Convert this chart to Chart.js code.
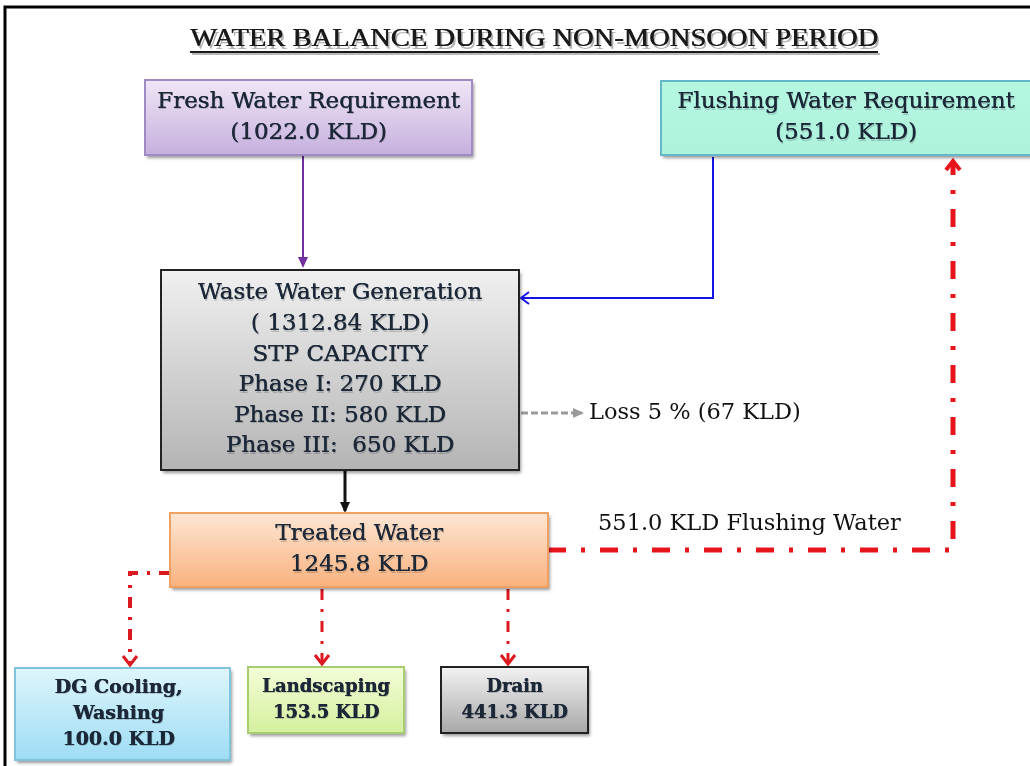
<!DOCTYPE html>
<html>
<head>
<meta charset="utf-8">
<script src="https://cdn.jsdelivr.net/npm/chart.js@4/dist/chart.umd.min.js"></script>
<style>
  html, body { margin: 0; padding: 0; background: #fff; }
  #wrap { width: 1030px; height: 766px; }
</style>
</head>
<body>
<div id="wrap"><canvas id="c" width="1030" height="766"></canvas></div>
<script>
// ─── data ───
const title = 'WATER BALANCE DURING NON-MONSOON PERIOD';
const nodeNames = ['Fresh Water Requirement', 'Flushing Water Requirement', 'Waste Water Generation',
                   'Treated Water', 'DG Cooling,|Washing', 'Landscaping', 'Drain'];
const nodeKLD = [1022.0, 551.0, 1312.84, 1245.8, 100.0, 153.5, 441.3];
const stpPhases = ['Phase I:', 'Phase II:', 'Phase III: '];
const stpKLD = [270, 580, 650];
const lossPct = 5;
const lossKLD = 67;
const flushingReturnKLD = 551.0;

const fmt = v => (Math.round(v * 10) === v * 10 ? v.toFixed(1) : v.toFixed(2)) + ' KLD';

// ─── layout (diagram units = pixels of the reference) ───
const serif = '"DejaVu Serif", "Liberation Serif", serif';
const big = '23px ' + serif;
const boxes = {
  fresh:   { x0: 145, y0: 80,  x1: 472,  y1: 155, top: '#efe6f6', bot: '#c6b0de', edge: '#a08ac4', font: big, lh: 31 },
  flush:   { x0: 661, y0: 81,  x1: 1045, y1: 155, top: '#b6f7e2', bot: '#aef2dc', edge: '#62b8c8', font: big, lh: 31, dx: -7 },
  waste:   { x0: 161, y0: 270, x1: 519,  y1: 470, top: '#f0f0f0', bot: '#b4b4b4', edge: '#222',    font: big, lh: 30.6 },
  treated: { x0: 170, y0: 513, x1: 548,  y1: 587, top: '#fde6d4', bot: '#f9b27e', edge: '#f0a060', font: big, lh: 31 },
  dg:      { x0: 15,  y0: 668, x1: 230,  y1: 760, top: '#def6fd', bot: '#9edcf4', edge: '#80c4dc', font: 'bold 19px ' + serif, lh: 26, dx: -4 },
  land:    { x0: 248, y0: 667, x1: 404,  y1: 733, top: '#f4fdd8', bot: '#d4f09e', edge: '#a8cc70', font: 'bold 18px ' + serif, lh: 26 },
  drain:   { x0: 441, y0: 667, x1: 588,  y1: 733, top: '#f2f2f2', bot: '#a8a8a8', edge: '#222',    font: 'bold 18px ' + serif, lh: 26 }
};
const boxKeys = ['fresh', 'flush', 'waste', 'treated', 'dg', 'land', 'drain'];

function boxLines(i) {
  const name = nodeNames[i].split('|');
  const v = nodeKLD[i];
  if (i === 0 || i === 1) return [name[0], '(' + fmt(v) + ')'];
  if (i === 2) return [name[0], '( ' + fmt(v) + ')', 'STP CAPACITY']
    .concat(stpPhases.map((p, k) => p + ' ' + stpKLD[k] + ' KLD'));
  return name.concat([fmt(v)]);
}

const B = boxes;
const red = '#e8141c';
const dashDot = [18, 15, 4, 15];
const smallDashDot = [11, 9, 3, 9];
const link = (pts, color, width, dash, head) => ({
  data: pts.map(p => ({ x: p[0], y: p[1] })),
  showLine: true, borderColor: color, borderWidth: width, borderDash: dash || [],
  pointRadius: 0, fill: false, tension: 0, head: head
});

const datasets = [
  link([[303, B.fresh.y1], [303, B.waste.y0 - 4]], '#7030a0', 2, null, 'filled'),
  link([[713, B.flush.y1 + 2], [713, 298], [B.waste.x1 + 2, 298]], '#1414e6', 2, null, 'open'),
  link([[B.waste.x1 + 2, 413], [582, 413]], '#9a9a9a', 3, [7, 3], 'filled'),
  link([[345, B.waste.y1], [345, B.treated.y0 - 2]], '#111', 3, null, 'filled'),
  link([[B.treated.x1, 550], [953, 550], [953, B.flush.y1 + 6]], red, 5, dashDot, 'chevron'),
  link([[B.treated.x0, 573], [130, 573], [130, B.dg.y0 - 3]], '#dc1820', 4, smallDashDot, 'chevron'),
  link([[322, B.treated.y1 + 2], [322, B.land.y0 - 3]], '#dc1820', 3, smallDashDot, 'chevron'),
  link([[508, B.treated.y1 + 2], [508, B.drain.y0 - 3]], '#dc1820', 3, smallDashDot, 'chevron')
];

// ─── drawing plugin ───
const diagram = {
  id: 'diagram',
  beforeDatasetsDraw(chart) {
    const { ctx, scales: { x, y } } = chart;
    ctx.save();
    // frame
    ctx.strokeStyle = '#000'; ctx.lineWidth = 3;
    ctx.beginPath();
    ctx.moveTo(x.getPixelForValue(5), y.getPixelForValue(770));
    ctx.lineTo(x.getPixelForValue(5), y.getPixelForValue(7));
    ctx.lineTo(x.getPixelForValue(1035), y.getPixelForValue(7));
    ctx.stroke();

    // title
    const tx = x.getPixelForValue(534), ty = y.getPixelForValue(39);
    ctx.font = '26px "Liberation Serif", serif';
    const w = ctx.measureText(title).width;
    const sx = 688 / w;
    ctx.save();
    ctx.translate(tx, ty); ctx.scale(sx, 1);
    ctx.textAlign = 'center'; ctx.textBaseline = 'middle';
    ctx.fillStyle = 'rgba(0,0,0,0.3)';
    ctx.fillText(title, 2, 3);
    ctx.fillStyle = '#1a1a1a';
    ctx.fillText(title, 0, 0);
    ctx.fillText(title, 0.6, 0);
    ctx.restore();
    ctx.fillStyle = 'rgba(0,0,0,0.28)';
    ctx.fillRect(tx - 344 + 2, y.getPixelForValue(51) + 2, 688, 2);
    ctx.fillStyle = '#1a1a1a';
    ctx.fillRect(tx - 344, y.getPixelForValue(51), 688, 2);

    // side labels
    ctx.textAlign = 'left'; ctx.textBaseline = 'middle';
    ctx.fillStyle = '#111';
    ctx.font = '22.5px ' + serif;
    ctx.fillText('Loss ' + lossPct + ' % (' + lossKLD + ' KLD)', x.getPixelForValue(589), y.getPixelForValue(413));
    ctx.fillText(flushingReturnKLD.toFixed(1) + ' KLD Flushing Water', x.getPixelForValue(598), y.getPixelForValue(524));
    ctx.restore();
  },
  afterDatasetsDraw(chart) {
    const { ctx, scales: { x, y } } = chart;
    ctx.save();
    // arrow heads
    chart.data.datasets.forEach((ds, i) => {
      const pts = chart.getDatasetMeta(i).data;
      const a = pts[pts.length - 2], b = pts[pts.length - 1];
      const ang = Math.atan2(b.y - a.y, b.x - a.x);
      ctx.save();
      ctx.translate(b.x, b.y); ctx.rotate(ang);
      ctx.strokeStyle = ds.borderColor; ctx.fillStyle = ds.borderColor;
      ctx.setLineDash([]);
      if (ds.head === 'filled') {
        ctx.beginPath(); ctx.moveTo(2, 0); ctx.lineTo(-9, -5); ctx.lineTo(-9, 5); ctx.closePath(); ctx.fill();
      } else if (ds.head === 'open') {
        ctx.lineWidth = 2;
        ctx.beginPath(); ctx.moveTo(-8, -6); ctx.lineTo(0, 0); ctx.lineTo(-8, 6); ctx.stroke();
      } else {
        ctx.lineWidth = ds.borderWidth >= 5 ? 4 : 3; ctx.lineJoin = 'miter';
        ctx.beginPath(); ctx.moveTo(-9, -7); ctx.lineTo(0, 0); ctx.lineTo(-9, 7); ctx.stroke();
      }
      ctx.restore();
    });

    // boxes
    boxKeys.forEach((k, i) => {
      const b = boxes[k];
      const px0 = x.getPixelForValue(b.x0), px1 = x.getPixelForValue(b.x1);
      const py0 = y.getPixelForValue(b.y0), py1 = y.getPixelForValue(b.y1);
      const g = ctx.createLinearGradient(0, py0, 0, py1);
      g.addColorStop(0, b.top); g.addColorStop(1, b.bot);
      ctx.save();
      ctx.shadowColor = 'rgba(0,0,0,0.4)'; ctx.shadowBlur = 3; ctx.shadowOffsetX = 2; ctx.shadowOffsetY = 3;
      ctx.fillStyle = g;
      ctx.fillRect(px0, py0, px1 - px0, py1 - py0);
      ctx.restore();
      ctx.strokeStyle = b.edge; ctx.lineWidth = 2;
      ctx.strokeRect(px0, py0, px1 - px0, py1 - py0);

      const lines = boxLines(i);
      const cx = (px0 + px1) / 2 + (b.dx || 0);
      const cy = (py0 + py1) / 2;
      ctx.font = b.font; ctx.textAlign = 'center'; ctx.textBaseline = 'middle';
      lines.forEach((t, j) => {
        const ly = cy + (j - (lines.length - 1) / 2) * b.lh;
        ctx.fillStyle = 'rgba(0,0,0,0.18)';
        ctx.fillText(t, cx + 1, ly + 1.5);
        ctx.fillStyle = '#1c2838';
        ctx.fillText(t, cx, ly);
        ctx.fillText(t, cx + 0.4, ly);
      });
    });
    ctx.restore();
  }
};

new Chart(document.getElementById('c'), {
  type: 'scatter',
  data: { datasets },
  options: {
    responsive: false, animation: false, devicePixelRatio: 1, events: [],
    layout: { padding: 0 },
    plugins: { legend: { display: false }, tooltip: { enabled: false } },
    scales: {
      x: { type: 'linear', min: 0, max: 1030, display: false },
      y: { type: 'linear', min: 0, max: 766, reverse: true, display: false }
    }
  },
  plugins: [diagram]
});
</script>
</body>
</html>
